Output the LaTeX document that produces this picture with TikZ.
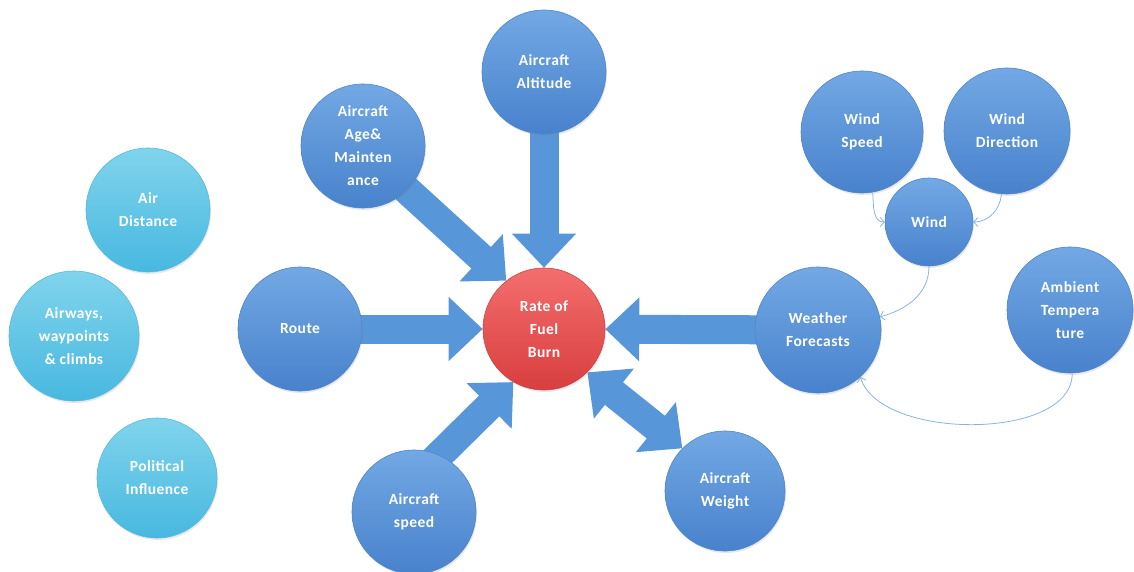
\documentclass[tikz,border=0pt]{standalone}
\usepackage{fontspec}
\newfontfamily\lblfont[LetterSpace=3]{Carlito}
\usetikzlibrary{arrows.meta,shadows,backgrounds}

\definecolor{bluetop}{RGB}{114,168,228}
\definecolor{bluebot}{RGB}{72,130,204}
\definecolor{blueedge}{RGB}{80,134,202}
\definecolor{cyantop}{RGB}{128,212,236}
\definecolor{cyanbot}{RGB}{72,184,224}
\definecolor{cyanedge}{RGB}{90,185,222}
\definecolor{redtop}{RGB}{244,110,110}
\definecolor{redbot}{RGB}{216,62,62}
\definecolor{rededge}{RGB}{200,70,70}
\definecolor{arrowblue}{RGB}{88,150,218}
\definecolor{thinblue}{RGB}{140,178,226}

\tikzset{
  ball/.style={circle, inner sep=0pt, minimum size=#1, align=center,
    text=white, font=\lblfont\bfseries\fontsize{15.5}{23}\selectfont,
    drop shadow={opacity=0.18, shadow xshift=1pt, shadow yshift=-2pt}},
  blueball/.style={ball=#1, top color=bluetop, bottom color=bluebot, draw=blueedge, line width=0.6pt},
  cyanball/.style={ball=#1, top color=cyantop, bottom color=cyanbot, draw=cyanedge, line width=0.6pt},
  redball/.style={ball=#1, top color=redtop, bottom color=redbot, draw=rededge, line width=0.6pt},
  bigarrow/.style={draw=arrowblue, line width=29pt,
    -{Triangle[length=34pt,width=62pt]}, shorten <=-8pt},
  bigdouble/.style={draw=arrowblue, line width=29pt,
    {Triangle[length=34pt,width=62pt]}-{Triangle[length=34pt,width=62pt]}},
  thinlink/.style={draw=thinblue, line width=0.8pt,
    -{Straight Barb[length=4pt,width=9pt]}}
}

\begin{document}
\begin{tikzpicture}[x=1pt,y=1pt]
\useasboundingbox (0,0) rectangle (1134,571);

% side factors
\node[cyanball=124pt] (airdist)   at (148,361) {Air\\Distance};
\node[cyanball=130pt] (airways)   at (74,235)  {Airways,\\waypoints\\\& climbs};
\node[cyanball=120pt] (political) at (157,93)  {Political\\Influence};

% factors around the central node
\node[redball=122pt]  (fuel)    at (544,242) {Rate of\\Fuel\\Burn};
\node[blueball=124pt] (age)     at (363,425) {Aircraft\\Age\&\\Mainten\\ance};
\node[blueball=124pt] (alt)     at (544,499) {Aircraft\\Altitude};
\node[blueball=124pt] (route)   at (300,242) {Route};
\node[blueball=124pt] (speed)   at (414,59)  {Aircraft\\speed};
\node[blueball=120pt] (weight)  at (725,80)  {Aircraft\\Weight};
\node[blueball=126pt] (weather) at (818,241) {Weather\\Forecasts};

% weather inputs
\node[blueball=122pt] (windspeed) at (862,439)  {Wind\\Speed};
\node[blueball=126pt] (winddir)   at (1007,440) {Wind\\Direction};
\node[blueball=88pt]  (wind)      at (929,349)  {Wind};
\node[blueball=126pt] (ambient)   at (1070,261) {Ambient\\Tempera\\ture};

% block arrows into the central node
\begin{scope}[on background layer]
  \draw[bigarrow] (age.-45) -- (fuel.128);
  \draw[bigarrow] (alt) -- (fuel);
  \draw[bigarrow] (route) -- (fuel);
  \draw[bigarrow] (weather) -- (fuel);
  \draw[bigarrow] (speed.66) -- (fuel.240);
  \draw[bigdouble] (fuel.-45) -- (weight.135);
\end{scope}

% thin links between weather nodes
\draw[thinlink] (windspeed.-80) to[out=-85,in=180] (wind.west);
\draw[thinlink] (winddir.-95) to[out=-95,in=0] (wind.east);
\draw[thinlink] (wind.south) to[out=-90,in=15] (weather.12);
\draw[thinlink] (ambient.-88) .. controls (1073,130) and (880,130) .. (weather.-48);
\end{tikzpicture}
\end{document}
